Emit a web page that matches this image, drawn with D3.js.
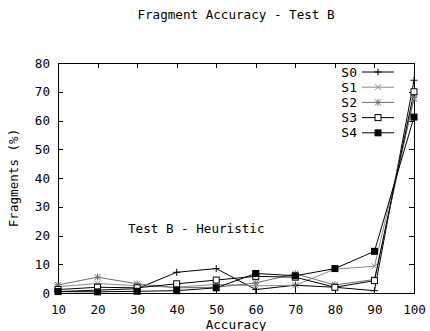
<!DOCTYPE html>
<html>
<head>
<meta charset="utf-8">
<script src="https://cdn.jsdelivr.net/npm/d3@7"></script>
<style>
  body { margin: 0; background: #fff; }
  text { font-family: "DejaVu Sans Mono", monospace; font-size: 12.6px; fill: #000; }
</style>
</head>
<body>
<div id="chart"></div>
<script>
// accuracy buckets on the x axis
const accuracy = [10, 20, 30, 40, 50, 60, 70, 80, 90, 100];
// fragments (%) per series
const s0 = [0.5, 1.0, 1.5, 7.2, 8.5, 1.2, 2.7, 2.0, 0.8, 74];
const s1 = [2.2, 3.3, 2.5, 2.0, 3.0, 2.5, 2.7, 8.3, 9.3, 67.5];
const s2 = [2.8, 5.5, 3.2, 1.8, 2.0, 3.5, 6.7, 2.8, 4.7, 68];
const s3 = [1.2, 2.0, 1.8, 3.2, 4.5, 5.8, 5.5, 2.0, 4.3, 70];
const s4 = [0.5, 0.4, 0.6, 0.8, 1.8, 6.8, 6.0, 8.5, 14.5, 61.2];
const seriesNames = ['S0', 'S1', 'S2', 'S3', 'S4'];
const yTicks = [0, 10, 20, 30, 40, 50, 60, 70, 80];

const series = [
  { name: seriesNames[0], values: s0, color: '#000', marker: 'plus' },
  { name: seriesNames[1], values: s1, color: '#8a8a8a', marker: 'cross' },
  { name: seriesNames[2], values: s2, color: '#6e6e6e', marker: 'star' },
  { name: seriesNames[3], values: s3, color: '#000', marker: 'box' },
  { name: seriesNames[4], values: s4, color: '#000', marker: 'fbox' },
];

const svgWidth = 430, svgHeight = 331;
const margin = { top: 63, right: 16, bottom: 38, left: 58 };
const width = svgWidth - margin.left - margin.right;
const height = svgHeight - margin.top - margin.bottom;

const svg = d3.select('#chart').append('svg')
  .attr('width', svgWidth)
  .attr('height', svgHeight);

const g = svg.append('g')
  .attr('transform', `translate(${margin.left},${margin.top})`);

const x = d3.scaleLinear().domain([10, 100]).range([0, width]);
const y = d3.scaleLinear().domain([0, 80]).range([height, 0]);

// frame
g.append('rect')
  .attr('width', width).attr('height', height)
  .attr('fill', 'none').attr('stroke', '#000').attr('stroke-width', 1)
  .attr('shape-rendering', 'crispEdges');

// axes with inward ticks, mirrored on top/right
g.append('g')
  .attr('transform', `translate(0,${height})`)
  .call(d3.axisBottom(x).tickValues(accuracy).tickSize(-5).tickPadding(12).tickSizeOuter(0));
g.append('g')
  .call(d3.axisLeft(y).tickValues(yTicks).tickSize(-5).tickPadding(8).tickSizeOuter(0));
g.append('g')
  .call(d3.axisTop(x).tickValues(accuracy).tickSize(-5).tickFormat('').tickSizeOuter(0));
g.append('g')
  .attr('transform', `translate(${width},0)`)
  .call(d3.axisRight(y).tickValues(yTicks).tickSize(-5).tickFormat('').tickSizeOuter(0));

g.selectAll('.domain').remove();
g.selectAll('.tick line').attr('stroke', '#000').attr('shape-rendering', 'crispEdges');
g.selectAll('.tick text')
  .style('font-family', '"DejaVu Sans Mono", monospace')
  .style('font-size', '12.6px')
  .attr('fill', '#000');

function drawMarker(sel, type, color) {
  const r = 3.5;
  if (type === 'plus' || type === 'star') {
    sel.append('path').attr('d', `M${-r},0H${r}M0,${-r}V${r}`).attr('stroke', color);
  }
  if (type === 'cross' || type === 'star') {
    sel.append('path').attr('d', `M${-r + 0.5},${-r + 0.5}L${r - 0.5},${r - 0.5}M${-r + 0.5},${r - 0.5}L${r - 0.5},${-r + 0.5}`).attr('stroke', color);
  }
  if (type === 'box') {
    sel.append('rect').attr('x', -3).attr('y', -3).attr('width', 6).attr('height', 6)
      .attr('fill', '#fff').attr('stroke', color);
  }
  if (type === 'fbox') {
    sel.append('rect').attr('x', -3.5).attr('y', -3.5).attr('width', 7).attr('height', 7)
      .attr('fill', color);
  }
}

const line = d3.line()
  .x((d, i) => x(accuracy[i]))
  .y((d) => y(d));

series.forEach((s) => {
  g.append('path')
    .datum(s.values)
    .attr('fill', 'none')
    .attr('stroke', s.color)
    .attr('stroke-width', 1)
    .attr('d', line);
});
series.forEach((s) => {
  s.values.forEach((v, i) => {
    const m = g.append('g').attr('transform', `translate(${x(accuracy[i])},${y(v)})`);
    drawMarker(m, s.marker, s.color);
  });
});

// legend
const legend = g.append('g').attr('transform', `translate(${width - 52},9)`);
series.forEach((s, i) => {
  const row = legend.append('g').attr('transform', `translate(0,${i * 15.2})`);
  row.append('text').attr('x', -5).attr('y', 4.5).attr('text-anchor', 'end')
    .style('font-size', '13px').text(s.name);
  row.append('line').attr('x1', 0).attr('x2', 32).attr('y1', 0).attr('y2', 0)
    .attr('stroke', s.color);
  const m = row.append('g').attr('transform', 'translate(16,0)');
  drawMarker(m, s.marker, s.color);
});

// titles
svg.append('text')
  .attr('x', 236).attr('y', 19)
  .attr('text-anchor', 'middle')
  .text('Fragment Accuracy - Test B');
svg.append('text')
  .attr('x', 236).attr('y', 329)
  .attr('text-anchor', 'middle')
  .text('Accuracy');
svg.append('text')
  .attr('transform', 'translate(18,178) rotate(-90)')
  .attr('text-anchor', 'middle')
  .text('Fragments (%)');
svg.append('text')
  .attr('x', 128).attr('y', 233)
  .text('Test B - Heuristic');
</script>
</body>
</html>
